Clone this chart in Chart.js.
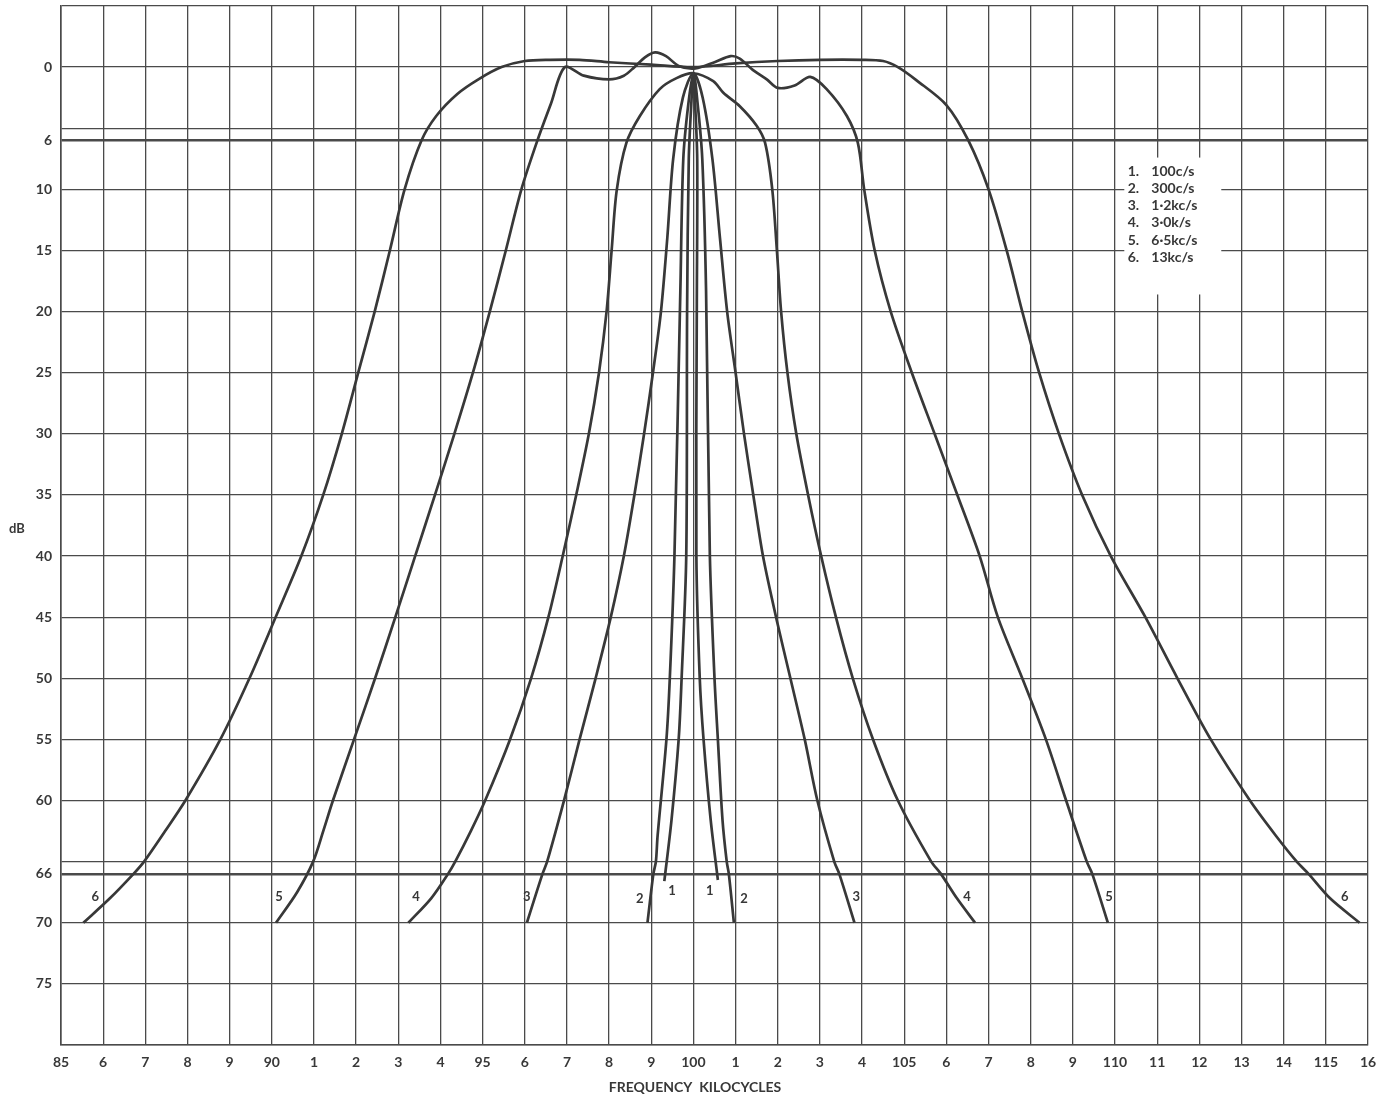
<!DOCTYPE html>
<html><head><meta charset="utf-8">
<script src="https://cdn.jsdelivr.net/npm/chart.js@4.4.1/dist/chart.umd.min.js"></script>
<style>html,body{margin:0;padding:0;background:#fff}canvas{display:block}</style>
</head><body>
<canvas id="c" width="1386" height="1101"></canvas>
<script>
// ---- tick labels ----
const xTickValues = [85,86,87,88,89,90,91,92,93,94,95,96,97,98,99,100,101,102,103,104,105,106,107,108,109,110,111,112,113,114,115,116];
const xTickLabels = ['85','6','7','8','9','90','1','2','3','4','95','6','7','8','9','100','1','2','3','4','105','6','7','8','9','110','11','12','13','14','115','16'];
const yGridValues = [-5,0,5,6,10,15,20,25,30,35,40,45,50,55,60,65,66,70,75,80];
const yLabelValues = [0,6,10,15,20,25,30,35,40,45,50,55,60,66,70,75];

// ---- legend / curve names ----
const curveIds = ['1','2','3','4','5','6'];
const curveNames = ['100c/s','300c/s','1·2kc/s','3·0k/s','6·5kc/s','13kc/s'];

// ---- curve data (frequency kHz, attenuation dB) ----
const c1Khz = [99.31,99.48,99.65,99.72,99.83,99.85,99.89,99.95,100.0,100.04,100.09,100.08,100.07,100.15,100.24,100.41,100.58];
const c1Db  = [66.6, 61.6, 55,   50,   40,   20,   7.5,  3,    0.5,  3,     7.5,   20,    40,    50,    55,    61.6,  66.5];

const c2Khz = [98.91,99.05,99.11,99.15,99.36,99.44,99.55,99.69,99.76,99.88,100.0,100.1,100.21,100.3,100.39,100.5,100.58,100.69,100.79,100.84,100.96];
const c2Db  = [70,   66,   65,   62.9, 55,   50,   40,   18.3, 7.5,  3,    0.5,  3,    7.5,   18.3,  40,    50,   55,    61.6,  65,    66,    70];

const c3Khz = [96.05,96.42,96.53,96.93,97.3,97.68,98.04,98.35,98.6,98.83,99.04,99.23,99.38,99.52,99.75,100.0,100.22,100.45,100.63,100.8,101.0,101.2,101.42,101.65,101.96,102.3,102.64,102.94,103.34,103.46,103.82];
const c3Db  = [70,   66,   65,   60,   55,   50,   45,   40,   35,  30,   25,   20,   14,   7.5,  2.5,  0.5,  2.5,   7.5,   14,    20,   25,    30,   35,    40,    45,    50,   55,    60,    65,    66,    70];

const c4Khz = [93.24,93.78,94.18,94.35,94.72,95.06,95.65,96.15,96.56,96.9,97.22,97.52,97.76,97.94,98.06,98.18,98.41,98.73,99.2,99.6,100.0,100.47,100.71,101.1,101.5,101.7,101.87,101.98,102.08,102.23,102.44,102.72,103.03,103.38,103.78,104.26,104.85,105.64,105.87,106.25,106.68];
const c4Db  = [70,   68,   66,   65,   62.5, 60,   55,   50,   45,   40,   35,   30,   25,   20,   15,   10.1, 6.2,  4.0,  1.8, 0.9, 0.5,  1.15,  2.1,   3.2,  4.8,  6.2,  10,    15,    20,    25,    30,    35,    40,    45,    50,    55,    60,    65,    66,    68,    70];

const c5Khz = [90.1,90.6,90.98,91.22,91.45,91.95,92.45,92.93,93.4,93.87,94.33,94.77,95.17,95.55,95.92,96.3,96.62,96.95,97.4,98.0,98.35,98.6,98.85,99.09,99.35,99.65,100.05,100.5,100.88,101.1,101.4,101.74,102.0,102.4,102.77,103.16,103.64,103.9,104.05,104.3,104.68,105.18,105.72,106.26,106.79,107.22,107.8,108.36,108.84,109.33,109.46,109.83];
const c5Db  = [70,  67.5, 65,   62.5, 60,   55,   50,   45,   40,  35,   30,   25,   20,   15,   10,   6,   3,    0,    0.7, 1.0, 0.7,  0,    -0.8, -1.2, -0.9, -0.1, 0.1,   -0.4,  -0.9,  -0.7,  0.2,   1.0,   1.7,  1.5,  0.8,   1.8,   4.0,   6.2,  10,    15,    20,    25,    30,    35,    40,    45,    50,   55,    60,    65,    66,    70];

const c6Khz = [85.53,86.16,86.72,86.97,87.47,87.95,88.78,89.47,90.09,90.7,91.22,91.66,92.05,92.44,92.8,93.15,93.55,93.9,94.4,94.9,95.45,96.0,96.6,97.3,98.0,99.0,100.0,101.0,102.0,103.0,104.0,104.5,104.85,105.3,106.0,106.52,107.0,107.43,107.8,108.2,108.67,109.22,109.9,110.72,111.48,112.27,113.2,113.82,114.31,114.59,115.1,115.8];
const c6Db  = [70,   68,   66,   65,   62.5, 60,   55,   50,   45,   40,   35,   30,   25,   20,   15,  10,   6,    4.0,  2.2, 1.0,  0,    -0.5, -0.6,-0.6,-0.4,-0.2,0,    -0.3, -0.5, -0.6, -0.6, -0.5, 0,     1.1,   3.1,  6,    10,   15,    20,   25,   30,    35,    40,   45,    50,    55,    60,   62.9,  65,    66,    68,   70];

// curve number labels near the foot of each branch (kHz, dB)
const footLabelText = ['6','5','4','3','2','1','1','2','3','4','5','6'];
const footLabelKhz  = [85.81,90.17,93.42,96.05,98.73,99.49,100.39,101.2,103.86,106.49,109.86,115.45];
const footLabelDb   = [67.9, 67.9, 67.9, 67.9, 68.0, 67.4, 67.4,  68.0, 67.9,  67.9,  67.9,  67.9];

const curves = [[c1Khz,c1Db],[c2Khz,c2Db],[c3Khz,c3Db],[c4Khz,c4Db],[c5Khz,c5Db],[c6Khz,c6Db]];

const INK = '#383838';
const GRID = '#4a4a4a';
const FONT = 'Lato, "Open Sans", sans-serif';

const datasets = curves.map((c,i)=>({
  label: curveIds[i],
  data: c[0].map((x,j)=>({x:x, y:c[1][j]})),
  showLine: true,
  borderColor: INK,
  borderWidth: 2.7,
  pointRadius: 0,
  tension: 0.3,
  fill: false
}));

const annot = {
  id: 'annot',
  afterDatasetsDraw(chart){
    const ctx = chart.ctx, xs = chart.scales.x, ys = chart.scales.y;
    ctx.save();
    // legend box (white patch over grid)
    const bx0 = xs.getPixelForValue(110.22), bx1 = xs.getPixelForValue(112.52);
    const by0 = ys.getPixelForValue(7.4), by1 = ys.getPixelForValue(18.6);
    ctx.fillStyle = '#fff';
    ctx.fillRect(bx0, by0, bx1-bx0, by1-by0);
    ctx.fillStyle = INK;
    ctx.font = 'bold 14px ' + FONT;
    ctx.textBaseline = 'middle';
    ctx.textAlign = 'left';
    const nx = xs.getPixelForValue(110.3), tx = xs.getPixelForValue(110.86);
    const ry = ys.getPixelForValue(8.55);
    for(let i=0;i<curveNames.length;i++){
      const y = ry + i*17.1;
      ctx.fillText(curveIds[i]+'.', nx, y);
      ctx.fillText(curveNames[i], tx, y);
    }
    // foot labels
    ctx.font = 'bold 13px ' + FONT;
    ctx.textAlign = 'center';
    for(let i=0;i<footLabelText.length;i++){
      ctx.fillText(footLabelText[i], xs.getPixelForValue(footLabelKhz[i]), ys.getPixelForValue(footLabelDb[i]));
    }
    // axis titles
    ctx.font = 'bold 13px ' + FONT;
    ctx.textAlign = 'left';
    ctx.fillText('dB', 9, ys.getPixelForValue(37.8));
    ctx.font = 'bold 14px ' + FONT;
    ctx.textAlign = 'center';
    ctx.fillText('FREQUENCY  KILOCYCLES', 695, 1087);
    ctx.restore();
  }
};

new Chart(document.getElementById('c'), {
  type: 'scatter',
  data: { datasets },
  options: {
    responsive: false,
    animation: false,
    devicePixelRatio: 1,
    layout: { padding: { left: 0, top: 6, right: 18, bottom: 0 } },
    plugins: { legend: { display: false }, tooltip: { enabled: false } },
    scales: {
      x: {
        type: 'linear', min: 85, max: 116,
        afterBuildTicks: s => { s.ticks = xTickValues.map(v => ({ value: v })); },
        afterFit: s => { s.height = 56; s.paddingLeft = 0; s.paddingRight = 0; },
        ticks: {
          autoSkip: false, maxRotation: 0, padding: 9, color: INK,
          font: { family: FONT, size: 14, weight: 'bold' },
          callback: v => xTickLabels[xTickValues.indexOf(v)]
        },
        grid: { color: GRID, lineWidth: 1.3, drawTicks: false },
        border: { color: GRID, width: 1.6 }
      },
      y: {
        type: 'linear', reverse: true, min: -5, max: 80,
        afterBuildTicks: s => { s.ticks = yGridValues.map(v => ({ value: v })); },
        afterFit: s => { s.width = 61; s.paddingTop = 0; s.paddingBottom = 0; },
        ticks: {
          autoSkip: false, padding: 9, color: INK,
          font: { family: FONT, size: 14, weight: 'bold' },
          callback: v => yLabelValues.includes(v) ? String(v) : ''
        },
        grid: {
          color: GRID, drawTicks: false,
          lineWidth: c => (c.tick && (c.tick.value === 6 || c.tick.value === 66)) ? 2.4 : 1.3
        },
        border: { color: GRID, width: 1.6 }
      }
    }
  },
  plugins: [annot]
});
</script>
</body></html>
